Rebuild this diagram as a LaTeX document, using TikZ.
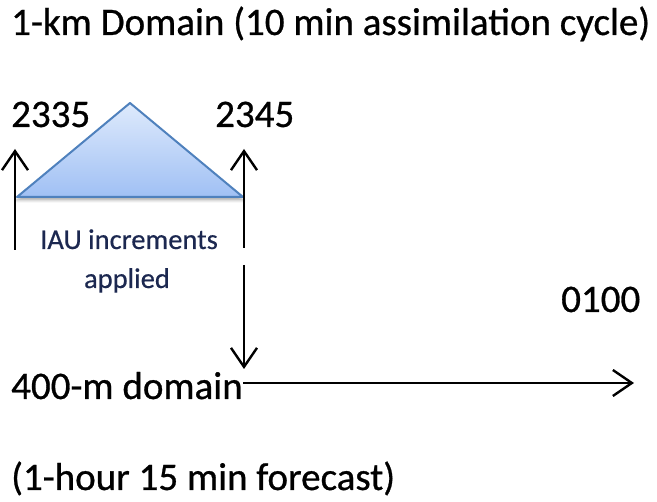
\documentclass[tikz,border=0pt]{standalone}
\usepackage{fontspec}
\setmainfont{Carlito}[FakeBold=0.7]
\newfontfamily\smallfam{Carlito}[FakeBold=0.5]
\usetikzlibrary{arrows.meta,shadows.blur}
\definecolor{triedge}{RGB}{79,129,189}
\definecolor{tritop}{RGB}{222,234,252}
\definecolor{tribot}{RGB}{160,192,244}
\definecolor{iautext}{RGB}{28,40,80}
\tikzset{
  big/.style={anchor=base west,inner sep=0pt,font=\fontsize{39}{46}\selectfont\addfontfeature{FakeBold=0.7}},
  small/.style={anchor=base,inner sep=0pt,font=\fontsize{28.5}{34}\selectfont\addfontfeature{FakeBold=0.5},text=iautext},
  arr/.style={line width=2.4pt,-{Straight Barb[length=19pt,width=26pt,line width=2.4pt]}},
  tri/.style={draw=triedge,line width=2pt,line join=round,top color=tritop,bottom color=tribot,
    blur shadow={shadow xshift=0pt,shadow yshift=-3pt,shadow blur radius=3pt,shadow opacity=35}}
}
\begin{document}
\begin{tikzpicture}[x=1pt,y=-1pt]
\useasboundingbox (0,0) rectangle (657,502);
\node[big] (title) at (11,35) {1-km Domain (10 min assimilation cycle)};
\node[big] (t2335) at (11,127) {2335};
\node[big] (t2345) at (215,127) {2345};
\node[big] (t0100) at (561,312) {0100};
\node[big] (d400) at (11,399) {400-m domain};
\node[big] (fc) at (11,490) {(1-hour 15 min forecast)};
\node[small] (iau1) at (129,249) {IAU increments};
\node[small] (iau2) at (127,288) {applied};
% triangle
\coordinate (tl) at (17,197);
\coordinate (tr) at (243,197);
\coordinate (tp) at (130,103);
\path[tri] (tl) -- (tp) -- (tr) -- cycle;
% arrows
\coordinate (la0) at (15,250);
\coordinate (la1) at (15,149);
\coordinate (ra0) at (244,248);
\coordinate (ra1) at (244,149);
\coordinate (da0) at (244,265);
\coordinate (da1) at (244,369);
\coordinate (ha0) at (243,383);
\coordinate (ha1) at (634,383);
\draw[arr] (la0) -- (la1);
\draw[arr] (ra0) -- (ra1);
\draw[arr] (da0) -- (da1);
\draw[arr] (ha0) -- (ha1);
\end{tikzpicture}
\end{document}
